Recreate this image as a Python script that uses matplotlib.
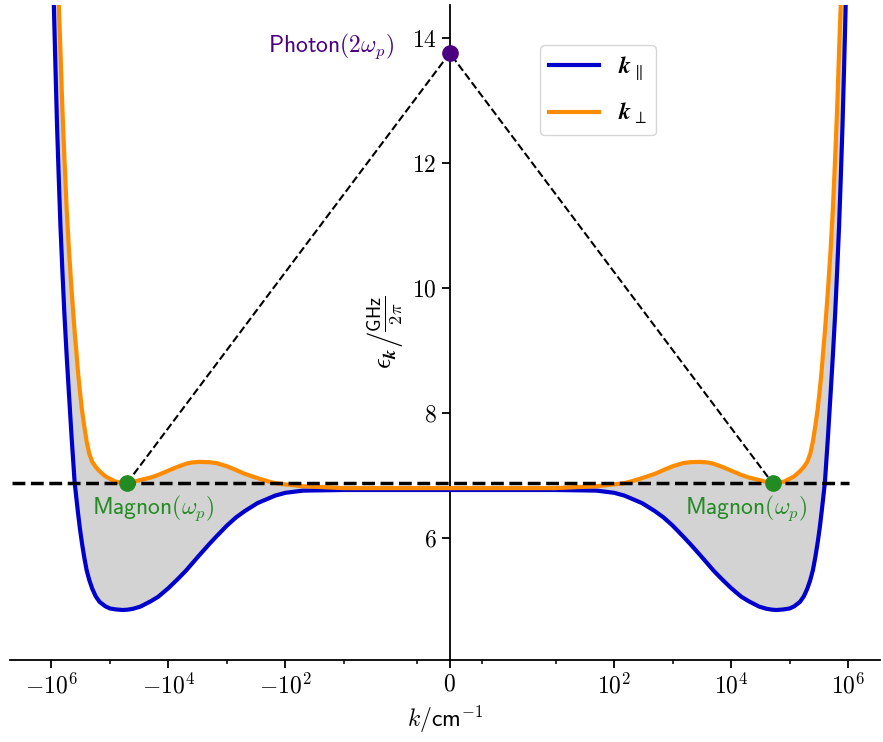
import matplotlib

matplotlib.use("Agg")

import matplotlib.pyplot as plt
import numpy as np

plt.rcParams['mathtext.fontset'] = 'cm'
plt.rcParams['font.family'] = ['cmss10', 'DejaVu Sans']
plt.rcParams['axes.unicode_minus'] = False

k_pos = [0, 1, 10, 50, 100, 150, 200, 300, 500, 700, 1e3, 1.5e3, 2e3, 3e3,
         4e3, 5e3, 7e3, 1e4, 1.5e4, 2e4, 3e4, 4e4, 5e4, 6e4, 8e4, 1e5, 1.2e5,
         1.5e5, 1.75e5, 2e5, 2.25e5, 2.5e5, 2.75e5, 3e5, 3.25e5, 3.5e5,
         3.75e5, 4e5, 4.5e5, 5e5, 5.5e5, 6e5, 6.5e5, 7e5, 7.5e5, 8e5, 8.5e5,
         9e5, 1e6, 1.2e6]
eps_par = [6.77, 6.77, 6.77, 6.76, 6.725, 6.68, 6.63, 6.56, 6.43, 6.33, 6.20,
           6.03, 5.905, 5.72, 5.585, 5.48, 5.34, 5.20, 5.06, 4.99, 4.905,
           4.87, 4.855, 4.85, 4.86, 4.875, 4.91, 4.98, 5.07, 5.19, 5.33, 5.49,
           5.70, 5.92, 6.15, 6.40, 6.65, 6.89, 7.60, 8.30, 8.95, 9.60, 10.30,
           11.0, 11.8, 12.6, 13.5, 14.4, 16.3, 20.0]
eps_perp = [6.80, 6.80, 6.80, 6.83, 6.86, 6.88, 6.91, 6.96, 7.03, 7.09, 7.15,
            7.20, 7.215, 7.22, 7.21, 7.19, 7.14, 7.08, 7.01, 6.97, 6.93, 6.90,
            6.885, 6.885, 6.905, 6.95, 6.99, 7.07, 7.14, 7.22, 7.35, 7.55,
            7.80, 8.05, 8.35, 8.65, 9.00, 9.30, 9.95, 10.6, 11.3, 12.1, 12.9,
            13.8, 14.6, 15.5, 16.5, 17.5, 19.5, 25.0]

omega_p = 6.88          # pump magnon frequency
k_magnon = 5.1e4        # magnon wave vector
photon = 13.76          # photon at 2 omega_p
hline_k = [-4.7e6, 1.05e6]

x_lim = (-5.1e6, 3.5e6)
y_lim = (4.05, 14.53)
x_major = [-1e6, -1e4, -1e2, 0, 1e2, 1e4, 1e6]
x_major_labels = [r'$-10^{6}$', r'$-10^{4}$', r'$-10^{2}$', r'$0$',
                  r'$10^{2}$', r'$10^{4}$', r'$10^{6}$']
x_minor = [-1e5, -1e3, -10, -1, 1, 10, 1e3, 1e5]
y_major = [6, 8, 10, 12, 14]

# full k axis (negative side mirrored)
k_arr = np.array(k_pos)
k_all = np.concatenate([-k_arr[::-1], k_arr[1:]])
par_all = np.concatenate([np.array(eps_par)[::-1], eps_par[1:]])
perp_all = np.concatenate([np.array(eps_perp)[::-1], eps_perp[1:]])

fig = plt.figure(figsize=(8.83, 7.42), dpi=100)
ax = fig.add_axes([0.0113, 0.1105, 0.9853, 0.8828])
ax.set_xscale('symlog', linthresh=2, linscale=1)

ax.fill_between(k_all, par_all, perp_all, color='lightgray', zorder=1)
ax.plot(k_all, par_all, color='mediumblue', lw=3, zorder=3,
        label=r'$\boldsymbol{k}_{\parallel}$')
ax.plot(k_all, perp_all, color='darkorange', lw=3, zorder=3,
        label=r'$\boldsymbol{k}_{\perp}$')

ax.plot(hline_k, [omega_p, omega_p], color='k', ls='--', lw=2.5, zorder=4)
ax.plot([-k_magnon, 0, k_magnon], [omega_p, photon, omega_p],
        color='k', ls='--', lw=1.5, zorder=4)

ax.plot([-k_magnon, k_magnon], [omega_p, omega_p], 'o', color='forestgreen',
        ms=11, zorder=6)
ax.plot([0], [photon], 'o', color='indigo', ms=11, zorder=6, clip_on=False)

ax.annotate(r'Photon$(2\omega_p)$', xy=(0, photon), xytext=(-40, 5),
            textcoords='offset points', ha='right', va='center',
            color='indigo', fontsize=17)
for sgn in (-1, 1):
    ax.annotate(r'Magnon$(\omega_p)$', xy=(sgn * k_magnon, omega_p),
                xytext=(-sgn * 19, -18), textcoords='offset points',
                ha='center', va='center', color='forestgreen', fontsize=17)

ax.set_xlim(*x_lim)
ax.set_ylim(*y_lim)

ax.spines['left'].set_position(('data', 0))
ax.spines['right'].set_visible(False)
ax.spines['top'].set_visible(False)
for s in ('left', 'bottom'):
    ax.spines[s].set_linewidth(1.3)

ax.set_xticks(x_major, labels=x_major_labels)
ax.set_xticks(x_minor, minor=True)
ax.set_yticks(y_major, labels=[f'${v}$' for v in y_major])
ax.tick_params(which='major', length=6, width=1.3, labelsize=17)
ax.tick_params(which='minor', length=3, width=1.1)

ax.set_xlabel(r'$k/\mathsf{cm}^{-1}$', fontsize=17)
ax.set_ylabel(r'$\epsilon_{\boldsymbol{k}}\left/\frac{\mathsf{GHz}}{2\pi}\right.$',
              fontsize=19)

ax.legend(loc='upper left', bbox_to_anchor=(0.609, 0.939), borderaxespad=0,
          fontsize=17, handlelength=2.1, labelspacing=0.8)

fig.savefig('out.png', dpi=100)
plt.close(fig)
